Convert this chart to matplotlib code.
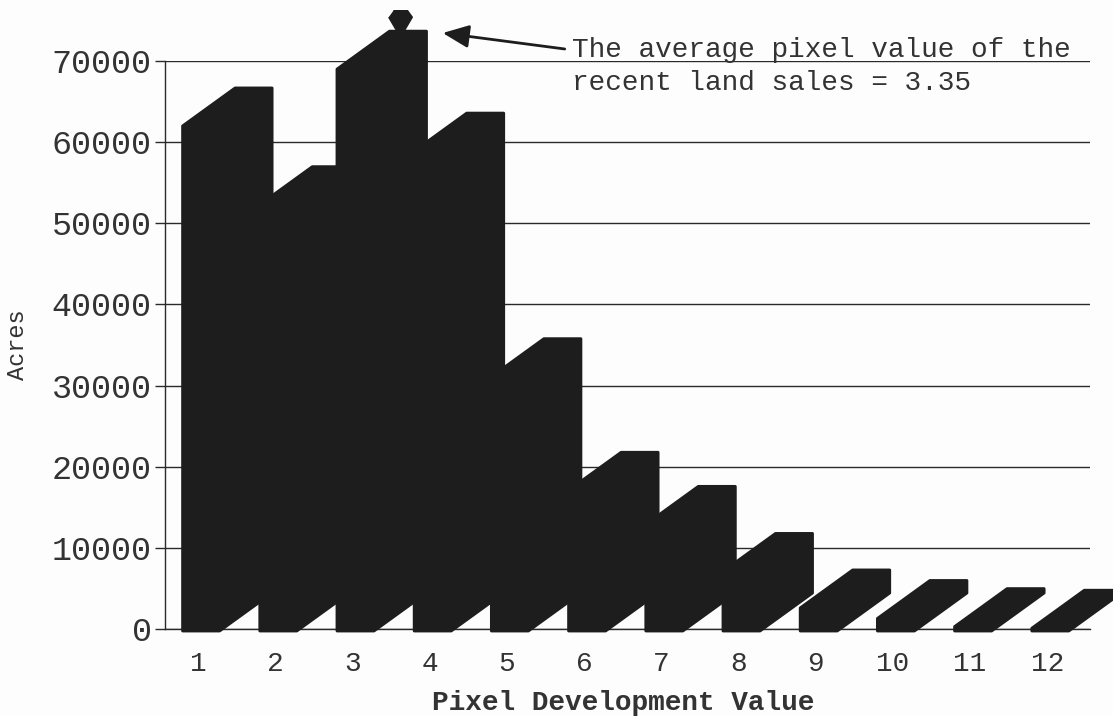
import matplotlib
matplotlib.use('Agg')
import matplotlib.pyplot as plt
from matplotlib.patches import Polygon

plt.rcParams['font.family'] = ['Liberation Mono', 'DejaVu Sans Mono']

# values (front edge height of each 3d bar)
pixel_values = [1, 2, 3, 4, 5, 6, 7, 8, 9, 10, 11, 12]
acres = [62000, 52300, 69000, 58900, 31100, 17100, 12900, 7100, 2600, 1300, 300, 100]
y_ticks = [0, 10000, 20000, 30000, 40000, 50000, 60000, 70000]
average_pixel = 3.35

ink = '#1d1d1d'
W, H = 1113, 716

fig = plt.figure(figsize=(W / 100, H / 100), dpi=100, facecolor='#fdfdfd')
ax = fig.add_axes([165 / W, 1 - 629 / H, (1090 - 165) / W, (629 - 61) / H])
ax.set_facecolor('#fdfdfd')
ax.set_xlim(0.5725, 12.554)
ax.set_ylim(0, 70000)

# gridlines and frame
ax.yaxis.grid(True, color='#2a2a2a', linewidth=1.0)
ax.set_axisbelow(True)
for side in ['top', 'right']:
    ax.spines[side].set_visible(False)
for side in ['left', 'bottom']:
    ax.spines[side].set_color('#2a2a2a')
    ax.spines[side].set_linewidth(1.0)

ax.set_yticks(y_ticks)
ax.set_xticks(pixel_values)
ax.tick_params(axis='y', length=7.2, width=1.0, color='#2a2a2a', pad=2.5, labelsize=24, labelcolor='#333333')
ax.tick_params(axis='x', length=0, pad=16, labelsize=20, labelcolor='#333333')

# the 3d bars, sheared towards the upper right
bar_w = 0.48
depth_x = 0.68
depth_y = 4680
base = -250
for x, v in zip(pixel_values, acres):
    left = x - 0.20
    right = left + bar_w
    pts = [(left, base), (right, base),
           (right + depth_x, base + depth_y), (right + depth_x, v + depth_y),
           (left + depth_x, v + depth_y), (left, v)]
    ax.add_patch(Polygon(pts, closed=True, facecolor=ink, edgecolor=ink, linewidth=2.0,
                         joinstyle='round', clip_on=False, zorder=3))

# pin for the average pixel value, stands on the back of bar 4
pin_x = average_pixel + 0.27
pin_head = [(-0.6, 1), (0.6, 1), (1, 0.45), (0.15, -1), (-0.15, -1), (-1, 0.45)]
ax.plot([pin_x, pin_x], [acres[3] + depth_y, 74300], color=ink, linewidth=3,
        clip_on=False, zorder=4, solid_capstyle='butt')
ax.plot([pin_x], [74800], marker=pin_head, markersize=17, color=ink, clip_on=False, zorder=4)

ax.text(5.845, 69300, 'The average pixel value of the\nrecent land sales = 3.35',
        fontsize=20, color='#333333', va='center', ha='left', linespacing=1.32, zorder=5,
        clip_on=False)
ax.annotate('', xy=(4.17, 73450), xytext=(5.75, 71480), annotation_clip=False,
            arrowprops=dict(arrowstyle='-|>,head_length=0.8,head_width=0.35', color=ink,
                            linewidth=2, shrinkA=0, shrinkB=0, mutation_scale=20))

fig.text(17 / W, 1 - 345 / H, 'Acres', rotation=90, fontsize=17, color='#333333', ha='center', va='center')
fig.text(623 / W, 1 - 703 / H, 'Pixel Development Value', fontsize=20, fontweight='bold',
         color='#333333', ha='center', va='center')

fig.savefig('out.png', dpi=100, facecolor=fig.get_facecolor())
